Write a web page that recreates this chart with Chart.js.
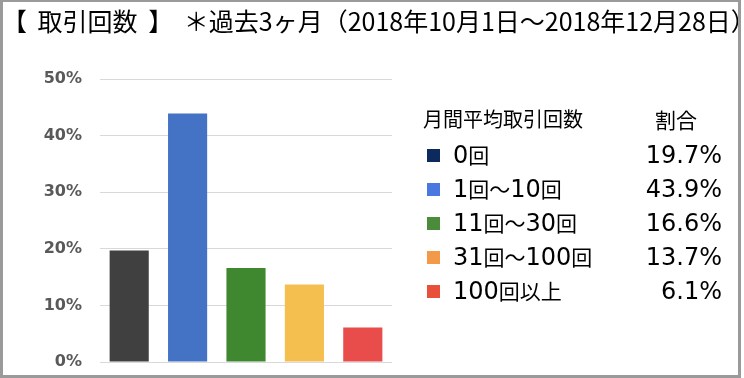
<!DOCTYPE html>
<html><head><meta charset="utf-8">
<script src="https://cdn.jsdelivr.net/npm/chart.js@4/dist/chart.umd.min.js"></script>
<style>
html,body{margin:0;padding:0;background:#fff;}
#wrap{position:absolute;left:0;top:0;width:744px;height:378px;overflow:hidden;background:#fff;}
#frame{position:absolute;left:0;top:0;width:735px;height:373px;border:3px solid #9a9a9a;border-top-width:2px;pointer-events:none;}
#title{position:absolute;left:2px;top:3px;font-family:"Noto Sans CJK JP",sans-serif;font-size:25px;line-height:34px;color:#000;white-space:nowrap;word-spacing:5px;}
#cv{position:absolute;left:0;top:0;width:744px;height:378px;}
.lg{position:absolute;font-family:"Noto Sans CJK JP",sans-serif;font-size:21px;color:#000;white-space:nowrap;line-height:26px;}
.lg .d{font-family:"DejaVu Sans",sans-serif;font-size:24px;}
.sq{position:absolute;width:13px;height:13px;}
</style></head>
<body>
<div id="wrap">
<div id="cv"><canvas id="c" width="744" height="378"></canvas></div>
<div id="title">【 取引回数 】 ＊過去3ヶ月（2018年10月1日～2018年12月28日）</div>
<div id="legend"></div>
<div id="frame"></div>
</div>
<script>
const categories = ["0回", "1回～10回", "11回～30回", "31回～100回", "100回以上"];
const shares = [19.7, 43.9, 16.6, 13.7, 6.1];
const barColors = ["#404040", "#4472c4", "#3f882f", "#f4bf4f", "#e84c4b"];
const legendColors = ["#0d2a5e", "#4a78e0", "#4a8c3a", "#f29a4a", "#e8503a"];
const yTicks = [0, 10, 20, 30, 40, 50];
const legendHeader = ["月間平均取引回数", "割合"];

function wrapDigits(s){ return s.replace(/([0-9.%]+)/g, '<span class="d">$1</span>'); }

const lg = document.getElementById('legend');
function add(html){ lg.insertAdjacentHTML('beforeend', html); }
add(`<div class="lg" style="left:423px;top:106px;font-size:20px;">${legendHeader[0]}</div>`);
add(`<div class="lg" style="left:655px;top:106px;font-size:21px;">${legendHeader[1]}</div>`);
const rowY = [155, 189, 223, 257, 291];
categories.forEach((c,i)=>{
  const y = rowY[i];
  add(`<div class="sq" style="left:427px;top:${y-6}px;background:${legendColors[i]}"></div>`);
  add(`<div class="lg" style="left:453px;top:${y-14}px;">${wrapDigits(c)}</div>`);
  add(`<div class="lg" style="right:${744-722}px;top:${y-14}px;text-align:right;">${wrapDigits(shares[i].toFixed(1) + '%')}</div>`);
});

new Chart(document.getElementById('c'), {
  type: 'bar',
  data: {
    labels: categories,
    datasets: [{ data: shares, backgroundColor: barColors, barPercentage: 0.67, categoryPercentage: 1.0, borderWidth: 0 }]
  },
  options: {
    responsive: false,
    animation: false,
    devicePixelRatio: 1,
    layout: { padding: { left: 0, right: 352, top: 79, bottom: 16 } },
    plugins: { legend: { display: false }, tooltip: { enabled: false }, title: { display: false } },
    scales: {
      x: { display: false, grid: { display: false } },
      y: {
        min: 0, max: 50,
        afterFit: s => { s.width = 100; },
        afterBuildTicks: s => { s.ticks = yTicks.map(v => ({ value: v })); },
        border: { display: false },
        grid: { color: '#d9d9d9', lineWidth: 1, drawTicks: true, tickLength: 18, tickColor: 'rgba(0,0,0,0)' },
        ticks: {
          padding: 0,
          color: '#595959',
          font: { family: 'DejaVu Sans', size: 16, weight: 'bold' },
          callback: v => v + '%'
        }
      }
    }
  }
});
</script>
</body></html>
